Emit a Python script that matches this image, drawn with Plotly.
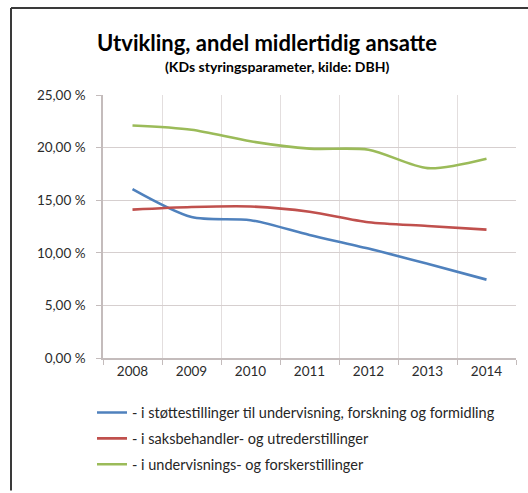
import plotly.graph_objects as go

years = ["2008", "2009", "2010", "2011", "2012", "2013", "2014"]

# Andel midlertidig ansatte (prosent)
stotte = [16.05, 13.4, 13.1, 11.7, 10.4, 8.95, 7.45]
saksbehandler = [14.1, 14.35, 14.4, 13.9, 12.9, 12.55, 12.2]
undervisning = [22.1, 21.7, 20.6, 19.9, 19.8, 18.05, 18.95]

series_names = [
    "- i støttestillinger til undervisning, forskning og formidling",
    "- i saksbehandler- og utrederstillinger",
    "- i undervisnings- og forskerstillinger",
]
series_values = [stotte, saksbehandler, undervisning]
series_colors = ["#4F81BD", "#C0504D", "#9BBB59"]

y_ticks = [0, 5, 10, 15, 20, 25]
y_ticktext = ["0,00 %", "5,00 %", "10,00 %", "15,00 %", "20,00 %", "25,00 %"]

FONT = "Lato, 'Open Sans', sans-serif"

fig = go.Figure()
for i, (name, vals, col) in enumerate(zip(series_names, series_values, series_colors)):
    fig.add_trace(go.Scatter(
        x=years, y=vals, name=name, mode="lines",
        line=dict(color=col, width=2.6, shape="spline", smoothing=0.8),
        legendgroup=f"g{i}",
    ))

# plot area in pixels: x 103..516, y 95..361
W, H = 528, 493
L, R, T, B = 103, 12, 95, 132
pw, ph = W - L - R, H - T - B

def px_x(x):
    return (x - L) / pw

def px_y(y):
    return (H - B - y) / ph

frame = dict(color="#3a3a3a", width=2)
fig.add_shape(type="line", xref="paper", yref="paper",
              x0=px_x(11), x1=px_x(530), y0=px_y(7), y1=px_y(7), line=frame)
fig.add_shape(type="line", xref="paper", yref="paper",
              x0=px_x(11), x1=px_x(11), y0=px_y(7), y1=px_y(495), line=frame)

fig.add_annotation(text="<b>Utvikling, andel midlertidig ansatte</b>",
                   xref="paper", yref="paper", x=px_x(267), y=px_y(42),
                   xanchor="center", yanchor="middle", showarrow=False,
                   font=dict(family=FONT, size=22, color="#000000"))
fig.add_annotation(text="<b>(KDs styringsparameter, kilde: DBH)</b>",
                   xref="paper", yref="paper", x=px_x(277), y=px_y(66),
                   xanchor="center", yanchor="middle", showarrow=False,
                   font=dict(family=FONT, size=14, color="#000000"))

fig.update_layout(
    width=W, height=H,
    margin=dict(l=L, r=R, t=T, b=B),
    paper_bgcolor="white", plot_bgcolor="white",
    font=dict(family=FONT, size=13, color="#2b2b2b"),
    showlegend=True,
    legend=dict(
        x=px_x(92), y=px_y(400), xanchor="left", yanchor="top",
        orientation="v", tracegroupgap=4,
        font=dict(family=FONT, size=14.5, color="#262626"),
        bgcolor="rgba(0,0,0,0)",
    ),
)

fig.update_xaxes(
    type="category", tickson="boundaries",
    showgrid=True, gridcolor="#e3dede", gridwidth=1,
    showline=True, linecolor="#c4bcbc", linewidth=1.5,
    ticks="outside", ticklen=5, tickcolor="#c4bcbc",
    tickfont=dict(family=FONT, size=13.5, color="#2b2b2b"),
    range=[-0.5, 6.5], fixedrange=True,
)
fig.update_yaxes(
    range=[0, 25], tickvals=y_ticks, ticktext=y_ticktext,
    showgrid=True, gridcolor="#d6cfcf", gridwidth=1.2,
    showline=True, linecolor="#c4bcbc", linewidth=1.5,
    ticks="outside", ticklen=5, tickcolor="#c4bcbc",
    ticklabelstandoff=8, zeroline=False,
    tickfont=dict(family=FONT, size=13.5, color="#2b2b2b"),
)

fig.write_html("out.html")
